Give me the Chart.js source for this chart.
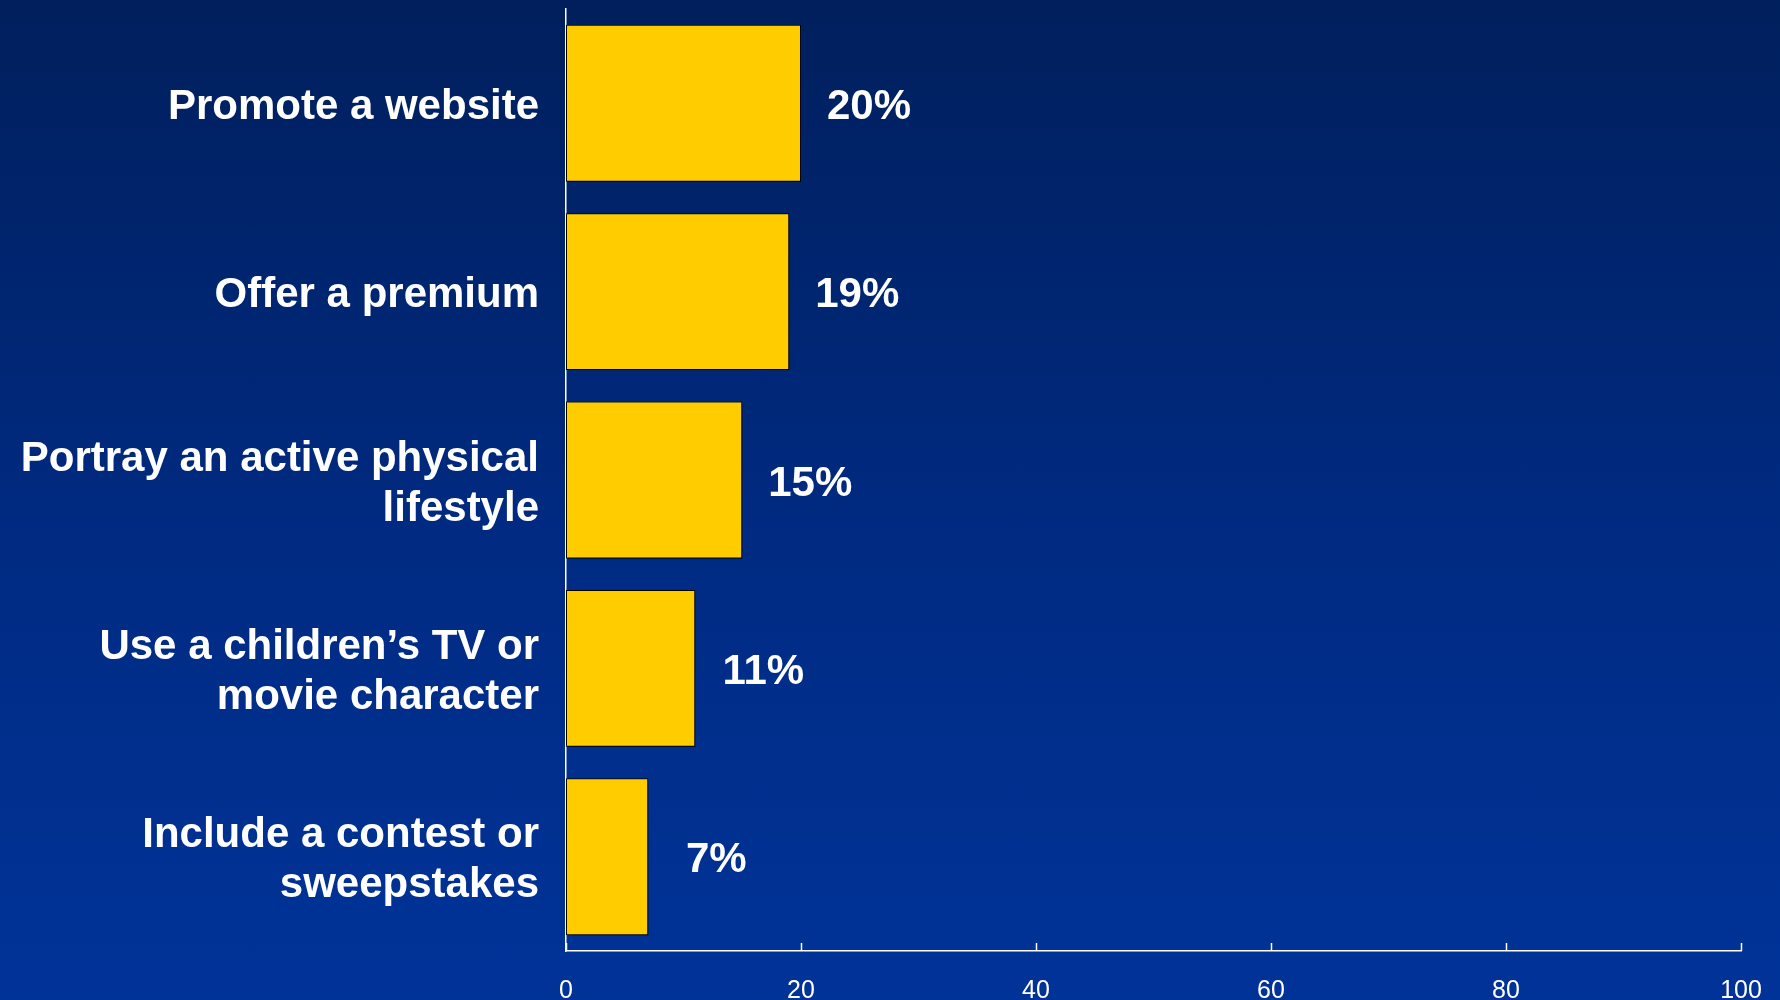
<!DOCTYPE html>
<html>
<head>
<meta charset="utf-8">
<script src="https://cdn.jsdelivr.net/npm/chart.js@4.4.0/dist/chart.umd.min.js"></script>
<style>
    html, body { margin: 0; padding: 0; }
    #wrap {
        width: 1780px;
        height: 1000px;
        background: linear-gradient(to bottom, #001f5c 0%, #002a80 50%, #003399 100%);
    }
</style>
</head>
<body>
<div id="wrap"><canvas id="barChart"></canvas></div>
<script>
var categories = [
    "Promote a website",
    "Offer a premium",
    ["Portray an active physical", "lifestyle"],
    ["Use a children\u2019s TV or", "movie character"],
    ["Include a contest or", "sweepstakes"]
];
var shares = [20, 19, 15, 11, 7];
var xTicks = [0, 20, 40, 60, 80, 100];

// black drop shadow under the bars
var barShadow = {
    id: 'barShadow',
    beforeDatasetsDraw: function(chart) {
        var ctx = chart.ctx;
        ctx.save();
        ctx.shadowColor = 'rgba(0,0,0,0.85)';
        ctx.shadowOffsetX = 2;
        ctx.shadowOffsetY = 2;
        ctx.shadowBlur = 1;
    },
    afterDatasetsDraw: function(chart) {
        chart.ctx.restore();
    }
};

// "20%" etc to the right of each bar, plus short tick marks sitting on the x axis
var valueLabels = {
    id: 'valueLabels',
    afterDraw: function(chart) {
        var ctx = chart.ctx;
        var meta = chart.getDatasetMeta(0);
        ctx.save();
        ctx.fillStyle = '#ffffff';
        ctx.font = 'bold 42px "Liberation Sans", Arial, sans-serif';
        ctx.textAlign = 'center';
        ctx.textBaseline = 'middle';
        meta.data.forEach(function(bar, i) {
            ctx.fillText(shares[i] + '%', bar.x + 68, bar.y + 4);
        });

        var xs = chart.scales.x;
        var base = chart.chartArea.bottom;
        ctx.strokeStyle = '#ffffff';
        ctx.lineWidth = 1.5;
        xTicks.forEach(function(v) {
            var px = Math.round(xs.getPixelForValue(v)) + 0.5;
            ctx.beginPath();
            ctx.moveTo(px, base - 8);
            ctx.lineTo(px, base);
            ctx.stroke();
        });
        ctx.restore();
    }
};

var barChart_var = new Chart(document.getElementById('barChart'), {
    type: 'bar',
    data: {
        labels: categories,
        datasets: [{
            data: shares,
            backgroundColor: '#ffcc00',
            borderColor: '#000000',
            borderWidth: 1,
            borderSkipped: false,
            barPercentage: 0.833,
            categoryPercentage: 1
        }]
    },
    options: {
        indexAxis: 'y',
        responsive: true,
        maintainAspectRatio: false,
        animation: false,
        layout: {
            padding: { top: 9, right: 39, left: 0, bottom: 0 }
        },
        plugins: {
            legend: { display: false },
            tooltip: { enabled: false }
        },
        scales: {
            x: {
                min: 0,
                max: 100,
                afterBuildTicks: function(scale) {
                    scale.ticks = xTicks.map(function(v) { return { value: v }; });
                },
                afterFit: function(scale) {
                    scale.height = 49;
                    scale.paddingLeft = 0;
                    scale.paddingRight = 0;
                },
                grid: { display: false, drawTicks: false },
                border: { display: true, color: '#ffffff', width: 1.5 },
                ticks: {
                    color: '#ffffff',
                    padding: 25,
                    maxRotation: 0,
                    font: { family: '"Liberation Sans", Arial, sans-serif', size: 25 }
                }
            },
            y: {
                afterFit: function(scale) {
                    scale.width = 566;
                    scale.paddingTop = 0;
                    scale.paddingBottom = 0;
                },
                grid: { display: false, drawTicks: false },
                border: { display: true, color: '#ffffff', width: 1.5 },
                ticks: {
                    color: '#ffffff',
                    padding: 27,
                    labelOffset: 4,
                    font: {
                        family: '"Liberation Sans", Arial, sans-serif',
                        size: 42,
                        weight: 'bold',
                        lineHeight: 1.19
                    }
                }
            }
        }
    },
    plugins: [barShadow, valueLabels]
});
</script>
</body>
</html>
